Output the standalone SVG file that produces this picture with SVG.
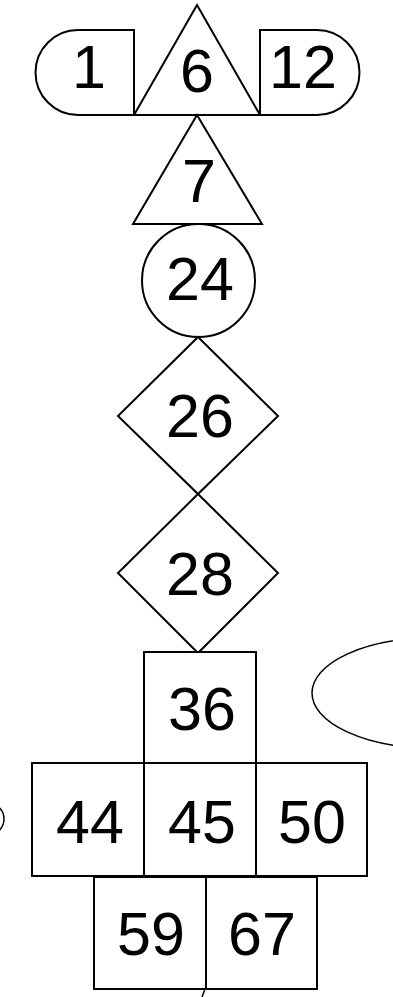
<svg xmlns="http://www.w3.org/2000/svg" width="393" height="997" viewBox="0 0 393 997">
<style>
.s{fill:#fff;stroke:#000;stroke-width:2}
.e{fill:none;stroke:#000;stroke-width:1.5}
.t{font-family:"Liberation Sans",Arial,sans-serif;font-size:61px;text-anchor:middle;fill:#000}
.c{fill:none;stroke:#000;stroke-width:1.5}
</style>
<rect width="393" height="997" fill="#fff"/>
<g id="n1"><path class="s" d="M134,30 H78 A42.5,42.5 0 0 0 78,115 H134 Z"/><text class="t" x="89" y="88">1</text></g>
<g id="n12"><path class="s" d="M260,30 H317 A42.5,42.5 0 0 1 317,115 H260 Z"/><text class="t" x="303" y="88">12</text></g>
<g id="n6"><path class="s" d="M197,5 L260,115 L134,115 Z"/><text class="t" x="197" y="92">6</text></g>
<g id="n7"><path class="s" d="M197,115 L262,224 L133,224 Z"/><text class="t" x="199" y="202">7</text></g>
<g id="n24"><circle class="s" cx="198.5" cy="280.5" r="56.5"/><text class="t" x="200" y="300">24</text></g>
<g id="n26"><path class="s" d="M198,337 L278,416 L198,494 L118,416 Z"/><text class="t" x="200" y="437">26</text></g>
<g id="n28"><path class="s" d="M198,494 L278,573 L198,653 L118,573 Z"/><text class="t" x="200" y="595">28</text></g>
<g id="n36"><rect class="s" x="144" y="652" width="112" height="111"/><text class="t" x="202" y="730">36</text></g>
<g id="n44"><rect class="s" x="32" y="763" width="112" height="113"/><text class="t" x="90" y="843">44</text></g>
<g id="n45"><rect class="s" x="144" y="763" width="112" height="113"/><text class="t" x="202" y="843">45</text></g>
<g id="n50"><rect class="s" x="256" y="763" width="111" height="113"/><text class="t" x="312" y="843">50</text></g>
<g id="n59"><rect class="s" x="94" y="877" width="112" height="112"/><text class="t" x="151" y="955">59</text></g>
<g id="n67"><rect class="s" x="206" y="877" width="111" height="112"/><text class="t" x="262" y="955">67</text></g>
<g id="nE"><ellipse class="e" cx="432" cy="693" rx="120" ry="55"/></g>
<g id="nL"><circle class="e" cx="-12" cy="819" r="16"/></g>
<g id="connectors"><path class="c" d="M205,989 L202,997"/></g>
</svg>
